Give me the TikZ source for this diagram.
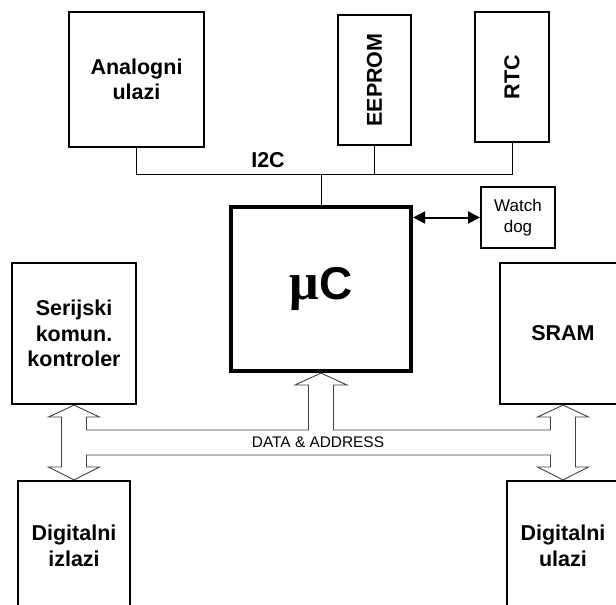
\documentclass[tikz,border=0pt]{standalone}
\usepackage{graphicx}
\usepackage{fontspec}
\setmainfont{Liberation Sans}
\newfontfamily\symfont{Liberation Serif}
\usetikzlibrary{arrows.meta}
\tikzset{
  blok/.style={draw, line width=2.2pt, align=center, inner sep=0pt,
    font=\fontsize{21.5}{25.5}\selectfont\bfseries},
  wire/.style={draw, line width=1pt},
  bus/.style={draw=black!75, line width=0.9pt, line join=miter},
  wdarrow/.style={{Triangle[length=12pt,width=12pt]}-{Triangle[length=12pt,width=12pt]}, line width=2pt}
}

\begin{document}
\begin{tikzpicture}[x=1pt,y=-1pt]
  \useasboundingbox (0,0) rectangle (616,605);

  % I2C side
  \node[blok, minimum width=135pt, minimum height=135pt] (AU) at (136.5,79.5) {Analogni\\ulazi};
  \node[blok, minimum width=73pt, minimum height=130pt] (EEPROM) at (374.5,80) {\rotatebox{90}{EEPROM}};
  \node[blok, minimum width=74pt, minimum height=130pt] (RTC) at (512,77) {\rotatebox{90}{RTC}};
  \node[font=\fontsize{21.5}{25}\selectfont\bfseries] (I2C) at (268,160) {I2C};
  \coordinate (i2cbus) at (0,174);

  % processor
  \node[blok, line width=4.2pt, minimum width=180pt, minimum height=164pt,
        font=\fontsize{46}{50}\selectfont\bfseries] (uC) at (321,289) {{\symfont\fontsize{52}{50}\selectfont μ}C};
  \node[blok, line width=2pt, minimum width=74pt, minimum height=61pt,
        font=\fontsize{17}{20.5}\selectfont] (WD) at (518,217.5) {Watch\\dog};

  % bus side
  \node[blok, minimum width=124pt, minimum height=141pt] (SKK) at (74,333.5) {Serijski\\komun.\\kontroler};
  \node[blok, minimum width=126pt, minimum height=141pt] (SRAM) at (563,333.5) {SRAM};
  \node[blok, minimum width=112pt, minimum height=130pt] (DI) at (74,546) {Digitalni\\izlazi};
  \node[blok, minimum width=112pt, minimum height=130pt] (DU) at (563,546) {Digitalni\\ulazi};
  \node[font=\fontsize{15.4}{18}\selectfont] (DA) at (318,442) {DATA \& ADDRESS};

  \draw[wire] (AU.south) -- (AU.south |- i2cbus) -| (RTC.south);
  \draw[wire] (EEPROM.south) -- (EEPROM.south |- i2cbus);
  \draw[wire] (uC.north) -- (uC.north |- i2cbus);
  \draw[wdarrow] (uC.east |- WD.west) -- (WD.west);

  % DATA & ADDRESS bus
  \draw[bus] (SKK.south) -- (99.5,417) -- (86.5,417) -- (86.5,430) -- (308.5,430)
    -- (308.5,385) -- (295,385) -- (uC.south) -- (347,385) -- (333.5,385)
    -- (333.5,430) -- (550.5,430) -- (550.5,417) -- (537.5,417) -- (SRAM.south)
    -- (588.5,417) -- (575.5,417) -- (575.5,467) -- (588.5,467) -- (DU.north)
    -- (537.5,467) -- (550.5,467) -- (550.5,455) -- (86.5,455) -- (86.5,467)
    -- (99.5,467) -- (DI.north) -- (48.5,467) -- (61.5,467) -- (61.5,417)
    -- (48.5,417) -- cycle;
\end{tikzpicture}
\end{document}
